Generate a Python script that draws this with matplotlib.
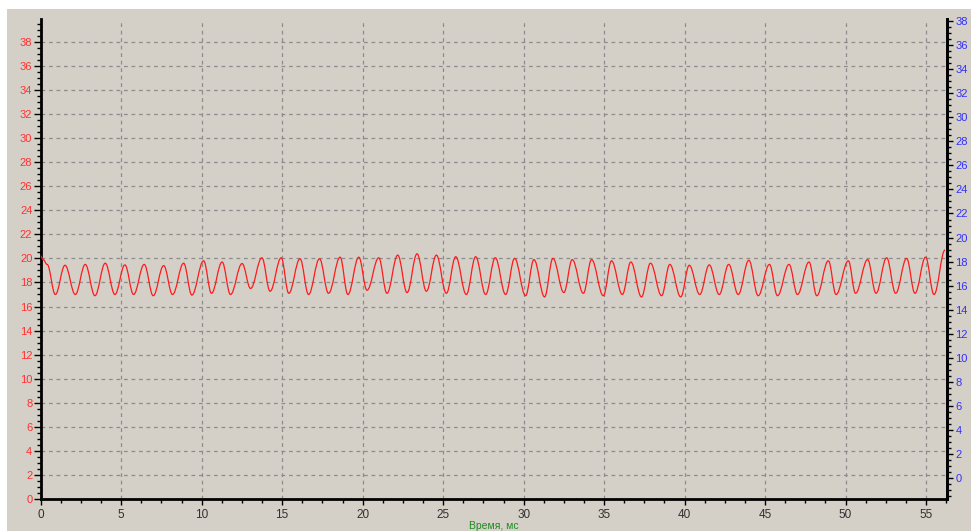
import matplotlib
matplotlib.use("Agg")
import matplotlib.pyplot as plt
from matplotlib.patches import Rectangle, PathPatch
from matplotlib.path import Path
from matplotlib.ticker import MultipleLocator

# peaks / troughs (time in ms, value)
t_ms = [0.00, 0.15, 0.40, 0.91, 1.51, 2.15, 2.77, 3.37, 4.01, 4.61, 5.23, 5.77,
        6.43, 6.99, 7.64, 8.19, 8.88, 9.39, 10.12, 10.61, 11.27, 11.79, 12.51,
        13.04, 13.74, 14.25, 14.94, 15.41, 16.11, 16.64, 17.32, 17.88, 18.60,
        19.08, 19.76, 20.27, 21.00, 21.51, 22.18, 22.76, 23.38, 23.96, 24.58,
        25.20, 25.78, 26.44, 27.02, 27.64, 28.24, 28.88, 29.44, 30.12, 30.64,
        31.30, 31.82, 32.50, 33.02, 33.71, 34.22, 34.95, 35.46, 36.13, 36.66,
        37.32, 37.88, 38.57, 39.08, 39.76, 40.29, 40.94, 41.53, 42.15, 42.74,
        43.33, 43.99, 44.57, 45.27, 45.77, 46.49, 47.01, 47.73, 48.21, 48.93,
        49.41, 50.17, 50.62, 51.37, 51.89, 52.55, 53.11, 53.79, 54.31, 54.97,
        55.49, 56.18]
values = [20.2, 19.9, 19.5, 17.0, 19.43, 17.0, 19.5, 16.9, 19.6, 17.0, 19.46, 17.0,
          19.5, 16.9, 19.4, 17.0, 19.6, 16.95, 19.8, 17.1, 19.7, 17.0, 19.57,
          17.5, 20.05, 17.27, 20.05, 17.1, 19.97, 17.0, 19.97, 17.1, 20.1,
          17.0, 20.1, 17.35, 20.05, 17.1, 20.27, 17.16, 20.38, 17.27, 20.27,
          17.1, 20.14, 17.0, 20.14, 17.0, 20.05, 17.0, 20.0, 16.9, 19.9,
          16.8, 20.0, 17.16, 19.9, 17.1, 19.9, 16.9, 19.8, 17.0, 19.7,
          16.8, 19.6, 16.9, 19.5, 16.8, 19.43, 17.0, 19.46, 17.0, 19.5,
          17.0, 19.84, 16.9, 19.5, 16.9, 19.5, 17.0, 19.7, 16.9, 19.8,
          17.0, 19.8, 17.1, 19.9, 17.1, 20.05, 17.1, 20.0, 17.1, 20.1,
          17.0, 20.7]

left_ticks = list(range(0, 40, 2))
right_ticks = list(range(0, 40, 2))
x_ticks = list(range(0, 60, 5))

BG = "#d4d0c8"

fig = plt.figure(figsize=(9.71, 5.31), dpi=100, facecolor="white")
fig.patches.append(Rectangle((7 / 971, 0), 1, 1 - 9 / 531, transform=fig.transFigure,
                             facecolor=BG, edgecolor="none", zorder=-1))

ax = fig.add_axes([40.7 / 971, 32 / 531, (947 - 40.7) / 971, 480 / 531])
ax.set_facecolor(BG)

# smooth trace: cubic segments with flat tangents at each read extremum
verts = [(t_ms[0], values[0])]
codes = [Path.MOVETO]
for i in range(1, len(t_ms)):
    x0, y0 = t_ms[i - 1], values[i - 1]
    x1, y1 = t_ms[i], values[i]
    dx = x1 - x0
    verts += [(x0 + 0.38 * dx, y0), (x1 - 0.38 * dx, y1), (x1, y1)]
    codes += [Path.CURVE4] * 3
ax.add_patch(PathPatch(Path(verts, codes), fill=False, edgecolor="#ff1a1a",
                       linewidth=0.9, zorder=3))

ax.set_xlim(0, 56.3)
ax.set_ylim(0, 39.9)
ax.set_xticks(x_ticks)
ax.set_yticks(left_ticks)
ax.xaxis.set_minor_locator(MultipleLocator(1.25))
ax.yaxis.set_minor_locator(MultipleLocator(0.5))

ax.grid(True, which="major", color="#8c8c8c", linestyle=(0, (3, 3)), linewidth=0.9)

for side in ["left", "bottom", "right"]:
    ax.spines[side].set_linewidth(2)
    ax.spines[side].set_color("black")
ax.spines["top"].set_visible(False)

ax.tick_params(axis="y", which="major", length=5, width=1, colors="black",
               labelcolor="#ff3030", labelsize=8, pad=1)
ax.tick_params(axis="y", which="minor", length=3, width=1, colors="black")
ax.tick_params(axis="x", which="major", length=4, width=1, colors="black",
               labelcolor="#303030", labelsize=8.5, pad=3)
ax.tick_params(axis="x", which="minor", length=3, width=1, colors="black")

ax2 = ax.twinx()
ax2.set_ylim(-1.78, 38.2)
ax2.set_yticks(right_ticks)
ax2.yaxis.set_minor_locator(MultipleLocator(0.5))
for side in ["left", "bottom", "top"]:
    ax2.spines[side].set_visible(False)
ax2.spines["right"].set_linewidth(2)
ax2.tick_params(axis="y", which="major", length=4, width=1, colors="black",
                labelcolor="#3030ff", labelsize=8, pad=2)
ax2.tick_params(axis="y", which="minor", length=3, width=1, colors="black")

for lbl in ax.get_yticklabels() + ax.get_xticklabels() + ax2.get_yticklabels():
    lbl.set_family("Liberation Sans")

fig.text(494 / 971, 1 - 526 / 531, "Время, мс", color="#1a8c1a", fontsize=7.5,
         family="Liberation Sans", ha="center", va="center")

fig.savefig("out.png", dpi=100, facecolor=fig.get_facecolor())
